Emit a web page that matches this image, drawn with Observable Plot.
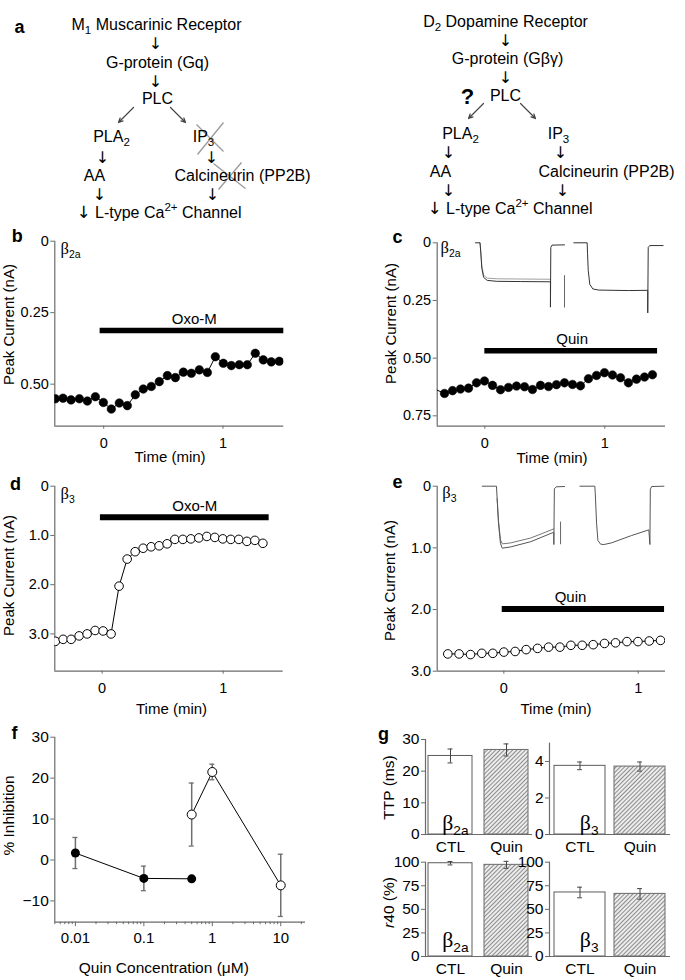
<!DOCTYPE html>
<html>
<head>
<meta charset="utf-8">
<script src="https://cdn.jsdelivr.net/npm/d3@7"></script>
<script src="https://cdn.jsdelivr.net/npm/@observablehq/plot@0.6"></script>
<style>
  html, body { margin: 0; padding: 0; background: #fff; }
  #root { position: relative; width: 685px; height: 980px; overflow: hidden; background: #fff; }
  #root > div { position: absolute; }
  #root svg { display: block; overflow: visible; }
</style>
</head>
<body>
<svg width="0" height="0" style="position:absolute">
  <defs>
    <pattern id="hatch" patternUnits="userSpaceOnUse" width="3" height="3" patternTransform="rotate(45)">
      <rect width="3" height="3" fill="#ececec"></rect>
      <line x1="0.5" y1="0" x2="0.5" y2="3" stroke="#8c8c8c" stroke-width="1"></line>
    </pattern>
  </defs>
</svg>
<div id="root"></div>
<script>
// ================= DATA =================
// Panel a: signalling-pathway diagram (layout positions in page units)
const pathwayNodes = [
  {label: "M_{1} Muscarinic Receptor", x: 156, y: 24},
  {label: "G-protein (Gq)", x: 157, y: 62},
  {label: "PLC", x: 157, y: 98},
  {label: "PLA_{2}", x: 111, y: 136},
  {label: "IP_{3}", x: 203, y: 136},
  {label: "AA", x: 94, y: 175},
  {label: "Calcineurin (PP2B)", x: 242, y: 175},
  {label: "D_{2} Dopamine Receptor", x: 505, y: 21},
  {label: "G-protein (Gβγ)", x: 507, y: 58},
  {label: "PLC", x: 505, y: 95},
  {label: "PLA_{2}", x: 460, y: 133},
  {label: "IP_{3}", x: 558, y: 133},
  {label: "AA", x: 440, y: 171},
  {label: "Calcineurin (PP2B)", x: 606, y: 171}
];
const pathwaySteps = [
  {label: "↓", x: 155, y: 43}, {label: "↓", x: 155, y: 81},
  {label: "↓", x: 102, y: 157}, {label: "↓", x: 211, y: 157},
  {label: "↓", x: 99, y: 194}, {label: "↓", x: 212, y: 194},
  {label: "↓", x: 505, y: 40}, {label: "↓", x: 505, y: 77},
  {label: "↓", x: 448, y: 152}, {label: "↓", x: 560, y: 152},
  {label: "↓", x: 448, y: 190}, {label: "↓", x: 562, y: 190}
];
const pathwayOutcome = [
  {label: "↓ L-type Ca^{2+} Channel", x: 76, y: 212},
  {label: "↓ L-type Ca^{2+} Channel", x: 427, y: 208}
];
const pathwayQuery = [{label: "?", x: 467, y: 96}];
const pathwayBranches = [
  {x1: 133, y1: 107, x2: 118, y2: 122},
  {x1: 170, y1: 107, x2: 185, y2: 122},
  {x1: 483, y1: 103, x2: 468, y2: 118},
  {x1: 520, y1: 103, x2: 535, y2: 118}
];
const pathwayBlocked = [
  {x1: 197, y1: 154, x2: 223, y2: 122},
  {x1: 196, y1: 124, x2: 223, y2: 151},
  {x1: 213, y1: 163, x2: 245, y2: 188},
  {x1: 218, y1: 189, x2: 241, y2: 162}
];

// Panel b: beta2a + Oxo-M (peak current, nA)
const bTime = [-0.405,-0.341,-0.274,-0.204,-0.137,-0.070,-0.003,0.064,0.131,0.198,0.265,0.332,0.399,0.466,0.534,0.601,0.668,0.735,0.802,0.869,0.936,1.003,1.070,1.137,1.204,1.271,1.338,1.405,1.472];
const bCurrent = [0.551,0.549,0.555,0.551,0.559,0.544,0.564,0.587,0.566,0.575,0.537,0.517,0.508,0.491,0.470,0.477,0.458,0.462,0.450,0.459,0.404,0.427,0.435,0.432,0.432,0.392,0.415,0.422,0.420];
const bDrug = {label: "Oxo-M", start: -0.03, end: 1.51, level: 0.312, labelX: 0.76};

// Panel c: beta2a + Quin
const cTime = [-0.400,-0.336,-0.269,-0.203,-0.136,-0.069,-0.003,0.064,0.131,0.197,0.264,0.331,0.397,0.464,0.531,0.597,0.664,0.731,0.797,0.864,0.931,0.997,1.064,1.131,1.197,1.264,1.331,1.397];
const cCurrent = [0.638,0.653,0.641,0.634,0.630,0.607,0.599,0.618,0.637,0.627,0.621,0.624,0.636,0.618,0.623,0.615,0.607,0.614,0.620,0.589,0.575,0.563,0.573,0.585,0.607,0.591,0.582,0.572];
const cDrug = {label: "Quin", start: 0, end: 1.44, level: 0.468, labelX: 0.728};
const cTraceCtl = [[-0.078,0],[-0.040,0],[-0.034,0.04],[-0.025,0.11],[-0.010,0.150],[0.020,0.163],[0.100,0.167],[0.300,0.168],[0.547,0.169],[0.547,0.279],[0.550,0.020],[0.560,0.010],[0.664,0.009]];
const cTraceQuin = [[-0.040,0],[-0.034,0.035],[-0.025,0.100],[-0.010,0.140],[0.020,0.153],[0.100,0.156],[0.300,0.157],[0.547,0.158]];
const cTraceTail = [[0.664,0.142],[0.664,0.279]];
const cTrace2 = [[0.742,0],[0.853,0],[0.856,0.045],[0.862,0.120],[0.875,0.180],[0.900,0.200],[0.950,0.205],[1.200,0.207],[1.358,0.206],[1.358,0.304],[1.362,0.020],[1.375,0.012],[1.486,0.012]];

// Panel d: beta3 + Oxo-M
const dTime = [-0.386,-0.322,-0.256,-0.190,-0.124,-0.058,0.008,0.074,0.140,0.207,0.273,0.339,0.405,0.471,0.537,0.601,0.667,0.733,0.799,0.865,0.931,0.997,1.063,1.129,1.196,1.262,1.328];
const dCurrent = [3.15,3.11,3.11,3.04,3.00,2.93,2.94,3.00,2.03,1.48,1.33,1.26,1.23,1.21,1.17,1.08,1.08,1.07,1.05,1.02,1.04,1.07,1.08,1.08,1.12,1.10,1.16];
const dDrug = {label: "Oxo-M", start: -0.014, end: 1.38, level: 0.63, labelX: 0.766};

// Panel e: beta3 + Quin
const eTime = [-0.417,-0.333,-0.248,-0.164,-0.082,0.000,0.084,0.166,0.251,0.333,0.417,0.499,0.583,0.665,0.749,0.831,0.916,0.998,1.082,1.166];
const eCurrent = [2.72,2.72,2.73,2.71,2.71,2.69,2.68,2.65,2.63,2.61,2.61,2.58,2.58,2.57,2.55,2.54,2.52,2.52,2.51,2.50];
const eDrug = {label: "Quin", start: -0.012, end: 1.196, level: 1.99, labelX: 0.496};
const eTraceCtl = [[-0.161,0],[-0.055,0],[-0.050,0.20],[-0.040,0.60],[-0.025,0.93],[-0.012,1.005],[0.050,0.985],[0.200,0.900],[0.372,0.746],[0.372,0.946],[0.376,0.043],[0.390,0.010],[0.452,0.005]];
const eTraceQuin = [[-0.050,0.20],[-0.040,0.55],[-0.025,0.87],[-0.012,0.935],[0.050,0.920],[0.200,0.840],[0.372,0.692]];
const eTraceTail = [[0.422,0.58],[0.422,0.935]];
const eTrace2 = [[0.566,0],[0.677,0],[0.680,0.10],[0.690,0.60],[0.700,0.88],[0.720,0.94],[0.744,0.946],[0.800,0.920],[0.950,0.800],[1.079,0.708],[1.087,0.946],[1.090,0.050],[1.100,0.005],[1.191,0]];

// Panel f: % inhibition vs Quin concentration (uM)
const quinConcB2a = [0.01, 0.1, 0.5];
const inhibB2a = [1.7, -4.5, -4.6];
const semB2a = [3.8, 3.0, 0];
const quinConcB3 = [0.5, 1, 10];
const inhibB3 = [11.1, 21.5, -6.2];
const semB3 = [7.7, 1.9, 7.6];
const concMajorTicks = [0.01, 0.1, 1, 10];
const concMinorTicks = [0.005,0.006,0.007,0.008,0.009,0.02,0.03,0.04,0.05,0.06,0.07,0.08,0.09,0.2,0.3,0.4,0.5,0.6,0.7,0.8,0.9,2,3,4,5,6,7,8,9,20];

// Panel g: bar summaries
const conditions = ["CTL", "Quin"];
const ttpB2a = [24.8, 26.7], ttpB2aSem = [2.2, 1.9];
const ttpB3 = [3.76, 3.72], ttpB3Sem = [0.21, 0.25];
const r40B2a = [98.9, 97.2], r40B2aSem = [1.8, 3.7];
const r40B3 = [67.9, 66.4], r40B3Sem = [5.6, 5.6];

// ================= HELPERS =================
const FONT = '"Liberation Sans", "DejaVu Sans", Arial, Helvetica, sans-serif';
const SERIF = '"Liberation Serif", "DejaVu Serif", "Times New Roman", serif';
const ARROWFONT = '"DejaVu Sans", sans-serif';
const AXIS = "#6b6b6b";
const root = document.getElementById("root");
const SVGNS = "http://www.w3.org/2000/svg";

function richify(svg) {
  for (const t of svg.querySelectorAll("text")) {
    const s = t.textContent;
    if (!/[_^*]\{|~β|↓ /.test(s)) continue;
    const holder = t.closest("[font-size]");
    const fs = holder ? parseFloat(holder.getAttribute("font-size")) : 14;
    while (t.firstChild) t.removeChild(t.firstChild);
    const re = /~β|↓|([_^*])\{([^}]*)\}|([^_^*~↓]+)/g;
    let m, pending = 0;
    while ((m = re.exec(s))) {
      const ts = document.createElementNS(SVGNS, "tspan");
      if (m[0] === "~β") {
        ts.textContent = "β";
        ts.setAttribute("font-family", SERIF);
        ts.setAttribute("font-size", fs * 1.15);
      } else if (m[0] === "↓") {
        ts.textContent = "↓";
        ts.setAttribute("font-family", ARROWFONT);
        ts.setAttribute("font-size", fs * 1.05);
      } else if (m[3] !== undefined) {
        ts.textContent = m[3];
      } else if (m[1] === "*") {
        ts.textContent = m[2];
        ts.setAttribute("font-style", "italic");
      } else {
        const shift = m[1] === "_" ? 0.27 * fs : -0.4 * fs;
        ts.textContent = m[2];
        ts.setAttribute("font-size", fs * 0.72);
        ts.setAttribute("dy", shift - pending);
        pending = shift;
        t.appendChild(ts);
        continue;
      }
      if (pending) { ts.setAttribute("dy", -pending); pending = 0; }
      t.appendChild(ts);
    }
  }
}

function at(spec, str, X, Y, o = {}) {
  return Plot.text([str], {frameAnchor: "top-left", textAnchor: "middle", lineAnchor: "middle",
    dx: X - spec.fx0, dy: Y - spec.fy0, ...o});
}
function letter(spec, ch, X, Y) {
  return at(spec, ch, X, Y, {fontSize: 18, fontWeight: "bold"});
}

function draw(spec, marks, scales = {}) {
  const svg = Plot.plot({
    width: spec.width, height: spec.height,
    marginLeft: spec.fx0 - spec.left, marginRight: spec.left + spec.width - spec.fx1,
    marginTop: spec.fy0 - spec.top, marginBottom: spec.top + spec.height - spec.fy1,
    style: {fontFamily: FONT, fontSize: "14px", background: "transparent", color: "#000", overflow: "visible"},
    ...scales,
    marks
  });
  richify(svg);
  const div = document.createElement("div");
  div.style.left = spec.left + "px";
  div.style.top = spec.top + "px";
  div.style.width = spec.width + "px";
  div.style.height = spec.height + "px";
  div.appendChild(svg);
  root.appendChild(div);
}

const fmt = n => d => d === 0 ? "0" : d.toFixed(n);

function timeCourse(spec, o) {
  const rows = o.time.map((t, i) => ({t, v: o.current[i]}));
  const x0 = o.xDomain[0], yMax = o.yDomain[1];
  const marks = [];
  for (const tr of o.traces) marks.push(Plot.line(tr.pts, {x: d => d[0], y: d => d[1], stroke: tr.color, strokeWidth: 1}));
  marks.push(
    Plot.ruleX([x0], {stroke: AXIS, strokeWidth: 1.2}),
    Plot.ruleY([yMax], {stroke: AXIS, strokeWidth: 1.2}),
    Plot.axisY({ticks: o.yTicks, tickFormat: o.yFmt, tickSize: 4, tickPadding: 2, fontSize: 14.5, stroke: AXIS, label: null}),
    Plot.axisX({ticks: [0, 1], tickFormat: d => String(d), tickSize: 3, tickPadding: 9, fontSize: 14.5, stroke: AXIS, label: null}),
    Plot.ruleY([o.drug], {y: "level", x1: "start", x2: "end", stroke: "#000", strokeWidth: o.barWidth}),
    Plot.text([o.drug], {x: "labelX", y: "level", text: "label", dy: -11.5, fontSize: 15}),
    Plot.line(rows, {x: "t", y: "v", stroke: "#000", strokeWidth: 1, clip: true}),
    Plot.dot(rows.filter(d => d.t >= x0), {x: "t", y: "v", r: 4.3, fill: o.open ? "#fff" : "#000", stroke: "#000", strokeWidth: o.open ? 1 : 0.5, clip: true}),
    letter(spec, o.letter[0], o.letter[1], o.letter[2]),
    at(spec, o.beta[0], o.beta[1], o.beta[2], {fontSize: 14.5, textAnchor: "start"}),
    at(spec, "Peak Current (nA)", o.yTitle[0], o.yTitle[1], {fontSize: 15, rotate: -90}),
    at(spec, "Time (min)", o.xTitle[0], o.xTitle[1], {fontSize: 15})
  );
  draw(spec, marks, {x: {domain: o.xDomain}, y: {domain: o.yDomain, reverse: true}});
}

function barPanel(spec, o) {
  const rows = conditions.map((c, i) => ({c, v: o.values[i], e: o.sem[i]}));
  const W = spec.fx1 - spec.fx0;
  const step = W / (conditions.length - o.pad[0] + 2 * o.pad[1]);
  const bw = step * (1 - o.pad[0]);
  const cap = bw / 2 - 2.6;
  const marks = [
    Plot.barY(rows.filter(d => d.c === "CTL"), {x: "c", y: "v", fill: "#fff", stroke: "#5c5c5c", strokeWidth: 1}),
    Plot.barY(rows.filter(d => d.c === "Quin"), {x: "c", y: "v", fill: "url(#hatch)", stroke: "#6a6a6a", strokeWidth: 1}),
    Plot.ruleX(rows, {x: "c", y1: d => d.v - d.e, y2: d => d.v + d.e, stroke: "#444", strokeWidth: 1}),
    Plot.tickY(rows, {x: "c", y: d => d.v + d.e, insetLeft: cap, insetRight: cap, stroke: "#444", strokeWidth: 1}),
    Plot.tickY(rows, {x: "c", y: d => d.v - d.e, insetLeft: cap, insetRight: cap, stroke: "#444", strokeWidth: 1}),
    Plot.ruleY([0], {stroke: AXIS, strokeWidth: 1.2}),
    Plot.frame({anchor: "left", stroke: AXIS, strokeWidth: 1.2}),
    Plot.axisY({ticks: o.yTicks, tickFormat: d => String(d), tickSize: 4, tickPadding: 2, fontSize: 15.5, stroke: AXIS, label: null}),
    Plot.axisX({tickSize: 0, tickPadding: 6, fontSize: 15.5, label: null}),
    at(spec, o.beta[0], o.beta[1], o.beta[2], {fontSize: 19, textAnchor: "start"})
  ];
  if (o.title) marks.push(at(spec, o.title[0], o.title[1], o.title[2], {fontSize: 15.5, rotate: -90}));
  if (o.letter) marks.push(letter(spec, o.letter[0], o.letter[1], o.letter[2]));
  draw(spec, marks, {
    x: {domain: conditions, paddingInner: o.pad[0], paddingOuter: o.pad[1]},
    y: {domain: o.yDomain}
  });
}

// ================= PANEL a =================
{
  const A = {left: 0, top: 0, width: 685, height: 228, fx0: 0, fx1: 685, fy0: 0, fy1: 228};
  draw(A, [
    Plot.link(pathwayBlocked, {x1: "x1", y1: "y1", x2: "x2", y2: "y2", stroke: "#9a9a9a", strokeWidth: 1.3}),
    Plot.arrow(pathwayBranches, {x1: "x1", y1: "y1", x2: "x2", y2: "y2", stroke: "#444", strokeWidth: 1.2, headLength: 6, headAngle: 50}),
    Plot.text(pathwayNodes, {x: "x", y: "y", text: "label", fontSize: 16, fill: "#000"}),
    Plot.text(pathwaySteps, {x: "x", y: "y", text: "label", fontSize: 16, fill: "#000", fontFamily: ARROWFONT}),
    Plot.text(pathwayOutcome, {x: "x", y: "y", text: "label", fontSize: 16, textAnchor: "start", fill: "#000"}),
    Plot.text(pathwayQuery, {x: "x", y: "y", text: "label", fontSize: 22, fontWeight: "bold", fill: "#000"}),
    letter(A, "a", 19, 27)
  ], {x: {type: "identity", axis: null}, y: {type: "identity", axis: null}});
}

// ================= PANELS b–e =================
timeCourse({left: 0, top: 225, width: 340, height: 250, fx0: 54.3, fx1: 283.3, fy0: 240.7, fy1: 425.7}, {
  time: bTime, current: bCurrent, drug: bDrug, open: false, barWidth: 5.5,
  xDomain: [-0.41, 1.51], yDomain: [0, 0.647], yTicks: [0, 0.25, 0.5], yFmt: fmt(2),
  traces: [], letter: ["b", 16.7, 236], beta: ["~β_{2a}", 60, 249],
  yTitle: [8.5, 324], xTitle: [169.5, 456.7]
});

timeCourse({left: 340, top: 225, width: 345, height: 250, fx0: 436.7, fx1: 665, fy0: 242.3, fy1: 425.7}, {
  time: cTime, current: cCurrent, drug: cDrug, open: false, barWidth: 5.5,
  xDomain: [-0.397, 1.506], yDomain: [0, 0.795], yTicks: [0, 0.25, 0.5, 0.75], yFmt: fmt(2),
  traces: [
    {pts: cTraceQuin, color: "#a0a0a0"},
    {pts: cTraceCtl, color: "#333"},
    {pts: cTraceTail, color: "#666"},
    {pts: cTrace2, color: "#333"}
  ],
  letter: ["c", 397, 236.5], beta: ["~β_{2a}", 440, 248],
  yTitle: [390.8, 323], xTitle: [551.5, 457.3]
});

timeCourse({left: 0, top: 470, width: 340, height: 260, fx0: 54.3, fx1: 282.7, fy0: 485.7, fy1: 670.7}, {
  time: dTime, current: dCurrent, drug: dDrug, open: true, barWidth: 6,
  xDomain: [-0.391, 1.496], yDomain: [0, 3.757], yTicks: [0, 1, 2, 3], yFmt: fmt(1),
  traces: [], letter: ["d", 15, 484], beta: ["~β_{3}", 60, 494],
  yTitle: [9, 575], xTitle: [171, 709]
});

timeCourse({left: 340, top: 470, width: 345, height: 260, fx0: 436.7, fx1: 665, fy0: 485.7, fy1: 670.7}, {
  time: eTime, current: eCurrent, drug: eDrug, open: true, barWidth: 6,
  xDomain: [-0.496, 1.203], yDomain: [0, 3], yTicks: [0, 1, 2, 3], yFmt: fmt(1),
  traces: [
    {pts: eTraceQuin, color: "#777"},
    {pts: eTraceCtl, color: "#555"},
    {pts: eTraceTail, color: "#666"},
    {pts: eTrace2, color: "#555"}
  ],
  letter: ["e", 397, 482], beta: ["~β_{3}", 441.7, 493],
  yTitle: [390, 580], xTitle: [555.5, 709]
});

// ================= PANEL f =================
{
  const F = {left: 0, top: 720, width: 340, height: 260, fx0: 54.3, fx1: 305, fy0: 736.7, fy1: 921.7};
  const rowsB2a = quinConcB2a.map((c, i) => ({c, v: inhibB2a[i], e: semB2a[i]}));
  const rowsB3 = quinConcB3.map((c, i) => ({c, v: inhibB3[i], e: semB3[i]}));
  const withErr = [...rowsB2a, ...rowsB3].filter(d => d.e > 0);
  const xDomain = [0.005, 23], yDomain = [-15.2, 30];
  draw(F, [
    Plot.ruleX([xDomain[0]], {stroke: AXIS, strokeWidth: 1.2}),
    Plot.ruleY([yDomain[0]], {stroke: AXIS, strokeWidth: 1.2}),
    Plot.axisY({ticks: [-10, 0, 10, 20, 30], tickSize: 4, tickPadding: 2, fontSize: 15.5, stroke: AXIS, label: null}),
    Plot.axisX({ticks: concMinorTicks, tickSize: 2.5, tickFormat: () => "", stroke: AXIS, label: null}),
    Plot.axisX({ticks: concMajorTicks, tickSize: 4.5, tickPadding: 6, tickFormat: d => String(d), fontSize: 15, stroke: AXIS, label: null}),
    Plot.ruleX(withErr, {x: "c", y1: d => d.v - d.e, y2: d => d.v + d.e, stroke: "#6f6f6f", strokeWidth: 1.5}),
    Plot.ruleY(withErr, {y: d => d.v + d.e, x1: "c", x2: "c", insetLeft: -2.5, insetRight: -2.5, stroke: "#6f6f6f", strokeWidth: 1.3}),
    Plot.ruleY(withErr, {y: d => d.v - d.e, x1: "c", x2: "c", insetLeft: -2.5, insetRight: -2.5, stroke: "#6f6f6f", strokeWidth: 1.3}),
    Plot.line(rowsB2a, {x: "c", y: "v", stroke: "#000", strokeWidth: 1}),
    Plot.line(rowsB3, {x: "c", y: "v", stroke: "#000", strokeWidth: 1}),
    Plot.dot(rowsB2a, {x: "c", y: "v", r: 4.5, fill: "#000"}),
    Plot.dot(rowsB3, {x: "c", y: "v", r: 4.5, fill: "#fff", stroke: "#000", strokeWidth: 1}),
    letter(F, "f", 14, 732.5),
    at(F, "% Inhibition", 9, 815, {fontSize: 15.5, rotate: -90}),
    at(F, "Quin Concentration (μM)", 163.3, 968, {fontSize: 15.5})
  ], {x: {type: "log", domain: xDomain}, y: {domain: yDomain}});
}

// ================= PANEL g =================
barPanel({left: 380, top: 725, width: 160, height: 130, fx0: 425, fx1: 532, fy0: 739, fy1: 834}, {
  values: ttpB2a, sem: ttpB2aSem, yDomain: [0, 30], yTicks: [0, 10, 20, 30], pad: [0.21, 0.06],
  beta: ["~β_{2a}", 441.7, 823.6], title: ["TTP (ms)", 389, 787], letter: ["g", 383, 733.5]
});
barPanel({left: 530, top: 725, width: 155, height: 130, fx0: 549, fx1: 670, fy0: 742.7, fy1: 834}, {
  values: ttpB3, sem: ttpB3Sem, yDomain: [0, 5], yTicks: [0, 2, 4], pad: [0.15, 0.075],
  beta: ["~β_{3}", 579.3, 823.6]
});
barPanel({left: 380, top: 855, width: 160, height: 125, fx0: 425, fx1: 532, fy0: 861.7, fy1: 956}, {
  values: r40B2a, sem: r40B2aSem, yDomain: [0, 100], yTicks: [0, 25, 50, 75, 100], pad: [0.21, 0.06],
  beta: ["~β_{2a}", 441.7, 940], title: ["*{r}40 (%)", 389, 902]
});
barPanel({left: 510, top: 855, width: 175, height: 125, fx0: 549, fx1: 670, fy0: 861.7, fy1: 956}, {
  values: r40B3, sem: r40B3Sem, yDomain: [0, 100], yTicks: [0, 25, 50, 75, 100], pad: [0.15, 0.075],
  beta: ["~β_{3}", 579.3, 940]
});
</script>
</body>
</html>
